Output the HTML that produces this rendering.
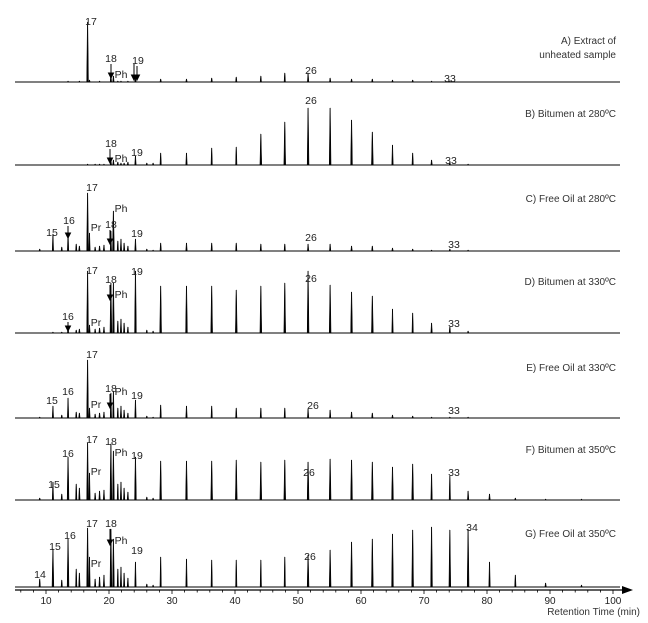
<!DOCTYPE html>
<html><head><meta charset="utf-8">
<style>
html,body{margin:0;padding:0;background:#fff;}
svg{display:block;font-family:"Liberation Sans",Arial,sans-serif;}
</style></head>
<body>
<svg id="chart" width="648" height="623" viewBox="0 0 648 623" xmlns="http://www.w3.org/2000/svg">
<g id="panels"></g>
<g id="axis"></g>
</svg>
<script>
// n-alkane carbon numbers and retention times (min)
const carbons = [14,15,16,17,18,19,20,21,22,23,24,25,26,27,28,29,30,31,32,33,34,35,36,37,38];
const retentionTimes = [9.0,11.1,13.5,16.6,20.3,24.2,28.2,32.3,36.3,40.2,44.1,47.9,51.6,55.1,58.5,61.8,65.0,68.2,71.2,74.1,77.0,80.4,84.5,89.3,95.0];
const prTime = 16.9, phTime = 20.7;
// relative peak heights per panel
const heightsA = [0,0,1,60,8,4,3,3,4,5,6,9,9,4,3,3,2,2,1,1,0,0,0,0,0];
const heightsB = [0,0,0,1,5,9,12,12,17,18,31,43,57,57,45,33,20,12,5,3,1,0,0,0,0];
const heightsC = [2,17,18,58,20,12,8,8,8,8,7,7,7,7,5,5,3,2,1,2,1,0,0,0,0];
const heightsD = [0,1,5,62,50,62,47,47,47,43,47,50,62,48,41,37,24,20,10,6,2,0,0,0,0];
const heightsE = [1,12,20,58,25,18,13,12,12,10,10,10,9,8,6,5,3,2,1,1,1,0,0,0,0];
const heightsF = [2,18,43,57,56,43,39,39,39,40,38,40,38,41,40,38,33,36,26,24,9,6,2,1,1];
const heightsG = [8,38,48,59,58,25,30,28,27,27,27,30,32,37,45,48,53,57,60,57,58,25,12,4,2];
const prHeights = [2,0,18,8,10,27,30];
const phHeights = [6,5,40,50,27,49,48];
// minor unresolved peaks (time, height) in the early region
const minorTimes = [12.5,14.8,15.3,17.8,18.5,19.2,21.4,21.9,22.4,23.0,26.0,27.0];
const minorA = [0,0,1,0,1,0,1,1,0,1,0,0];
const minorB = [0,0,0,1,1,1,3,2,2,3,2,2];
const minorC = [4,7,5,4,5,6,10,12,8,5,2,1];
const minorD = [1,3,4,4,5,6,12,14,10,6,3,2];
const minorE = [3,6,5,4,5,6,10,12,8,5,2,1];
const minorF = [6,16,12,7,9,10,16,18,12,8,3,2];
const minorG = [7,18,14,8,10,12,18,20,14,9,3,2];
const tickLabels = [10,20,30,40,50,60,70,80,90,100];

const panelHeights = [heightsA,heightsB,heightsC,heightsD,heightsE,heightsF,heightsG];
const panelMinor = [minorA,minorB,minorC,minorD,minorE,minorF,minorG];
const panelTitles = [["A) Extract of","unheated sample"],["B) Bitumen at 280ºC"],["C) Free Oil at 280ºC"],["D) Bitumen at 330ºC"],["E) Free Oil at 330ºC"],["F) Bitumen at 350ºC"],["G) Free Oil at 350ºC"]];
const baselines = [82,165,251,333,418,500,587];
const titleY = [40,113,198,281,367,449,533];
const panelKeys = ['a','b','c','d','e','f','g'];
// annotation labels [text, x, y]
const annots = [
 [["17",91,21],["18",111,58],["Ph",121,74],["19",138,60],["26",311,70],["33",450,78]],
 [["18",111,143],["Ph",121,158],["19",137,152],["26",311,100],["33",451,160]],
 [["17",92,187],["16",69,220],["15",52,232],["Pr",96,227],["18",111,224],["Ph",121,208],["19",137,233],["26",311,237],["33",454,244]],
 [["17",92,270],["18",111,279],["Ph",121,294],["19",137,271],["16",68,316],["Pr",96,322],["26",311,278],["33",454,323]],
 [["17",92,354],["18",111,388],["Ph",121,391],["19",137,395],["16",68,391],["15",52,400],["Pr",96,404],["26",313,405],["33",454,410]],
 [["17",92,439],["18",111,441],["Ph",121,452],["19",137,455],["16",68,453],["15",54,484],["Pr",96,471],["26",309,472],["33",454,472]],
 [["17",92,523],["18",111,523],["Ph",121,540],["19",137,550],["16",70,535],["15",55,546],["14",40,574],["Pr",96,563],["26",310,556],["34",472,527]]
];
// arrows [x, y1, y2]
const arrows = [
 [[111,64,78],[134,64,80],[137,66,80]],
 [[110,149,163]],
 [[68,226,238],[110,230,244]],
 [[68,322,331],[110,285,300]],
 [[110,394,408]],
 [],
 [[110,529,545]]
];

const NS = "http://www.w3.org/2000/svg";
function xScale(t){ return 46 + (t-10)*6.3; }
function mk(tag, attrs){ const e=document.createElementNS(NS,tag); for(const k in attrs) e.setAttribute(k,attrs[k]); return e; }

const gp = document.getElementById('panels');
for(let p=0;p<7;p++){
  const g = mk('g',{});
  
  
  gp.appendChild(g);
  const b = baselines[p];
  const bl = mk('line',{x1:15,x2:620,y1:b,y2:b,stroke:'#000','stroke-width':1});
  
  
  g.appendChild(bl);
  function peak(t,h,name){
    if(h<=0) return;
    const x=xScale(t);
    const w = h>30?0.9:0.7;
    const path = mk('path',{d:`M${x-w},${b} L${x-0.2},${b-h} L${x+0.2},${b-h} L${x+w},${b} Z`,fill:'#000',stroke:'#000','stroke-width':0.5});
    
    
    g.appendChild(path);
  }
  const hs = panelHeights[p];
  for(let i=0;i<carbons.length;i++) peak(retentionTimes[i],hs[i],'peak-c'+carbons[i]+'-'+panelKeys[p]);
  peak(prTime,prHeights[p],'peak-pr-'+panelKeys[p]);
  peak(phTime,phHeights[p],'peak-ph-'+panelKeys[p]);
  const mh = panelMinor[p];
  for(let i=0;i<minorTimes.length;i++) peak(minorTimes[i],mh[i],'minor-peak-'+panelKeys[p]);
  panelTitles[p].forEach((s,j)=>{
    const t = mk('text',{x:616,y:titleY[p]+j*14+4,'text-anchor':'end','font-size':10,fill:'#333'});
    t.textContent=s;
    
    
    g.appendChild(t);
  });
  annots[p].forEach(a=>{
    const t = mk('text',{x:a[1],y:a[2]+4,'text-anchor':'middle','font-size':10.5,fill:'#222'});
    t.textContent=a[0];
    
    
    g.appendChild(t);
  });
  arrows[p].forEach(a=>{
    const l = mk('path',{d:`M${a[0]},${a[1]} L${a[0]},${a[2]-4} M${a[0]-2.5},${a[2]-5} L${a[0]},${a[2]} L${a[0]+2.5},${a[2]-5} Z`,stroke:'#000','stroke-width':1,fill:'#000'});
    
    
    g.appendChild(l);
  });
}

const ga = document.getElementById('axis');
const ay = 590;
const axl = mk('line',{x1:15,x2:624,y1:ay,y2:ay,stroke:'#000','stroke-width':1.2});


ga.appendChild(axl);
const arr = mk('path',{d:`M622,${ay-4} L633,${ay} L622,${ay+4} Z`,fill:'#000'});


ga.appendChild(arr);
for(let t=6;t<=100;t+=2){
  const x=xScale(t);
  const tk = mk('line',{x1:x,x2:x,y1:ay,y2:ay+(t%10===0?4:2.5),stroke:'#000','stroke-width':0.8});
  
  
  ga.appendChild(tk);
}
tickLabels.forEach(v=>{
  const t = mk('text',{x:xScale(v),y:ay+14,'text-anchor':'middle','font-size':10,fill:'#222'});
  t.textContent=v;
  
  
  ga.appendChild(t);
});
const xt = mk('text',{x:640,y:615,'text-anchor':'end','font-size':10,fill:'#333'});
xt.textContent='Retention Time (min)';


ga.appendChild(xt);
</script>
</body></html>
